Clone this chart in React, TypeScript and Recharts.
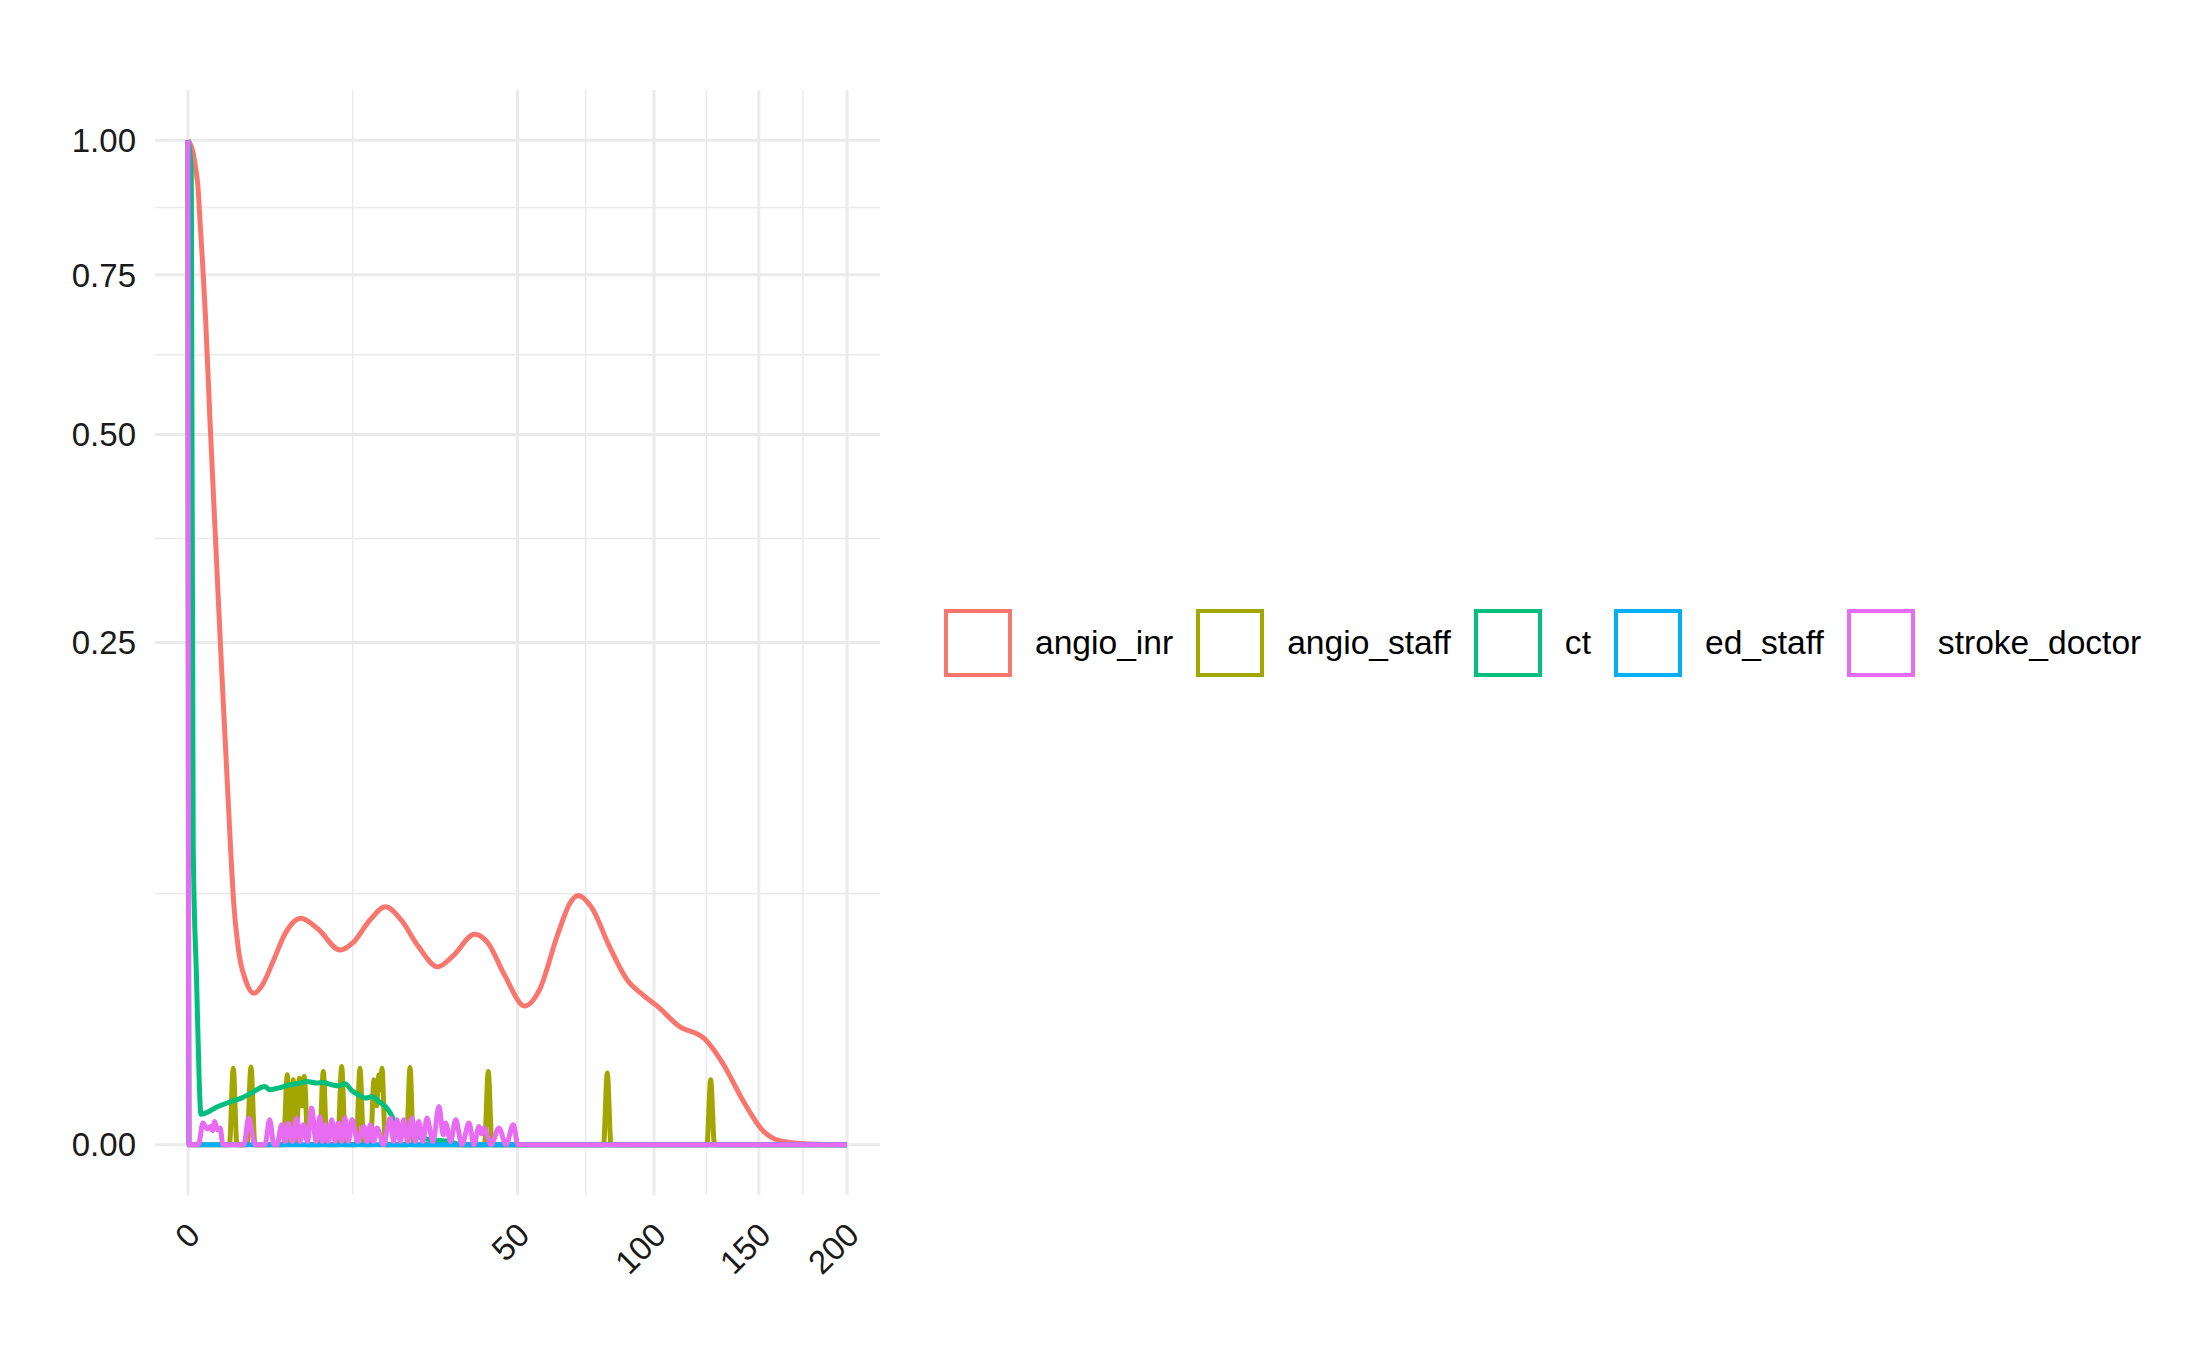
import { LineChart, Line, XAxis, YAxis, CartesianGrid, Legend } from 'recharts'

// raw values (minutes, probability); both axes are sqrt-scaled like the ggplot original
const seriesNames = ['angio_inr', 'angio_staff', 'ct', 'ed_staff', 'stroke_doctor']
const seriesColors = ['#F8766D', '#A3A500', '#00BF7D', '#00B0F6', '#E76BF3']

const xTickLabels = [0, 50, 100, 150, 200]
const yTickLabels = [0, 0.25, 0.5, 0.75, 1]

const angioInr: [number, number][] = [
  [0, 1], [0.01294, 0.9737], [0.02947, 0.9412], [0.04605, 0.9092], [0.0663, 0.8471],
  [0.1078, 0.7499], [0.1443, 0.6739], [0.2229, 0.5204], [0.483, 0.25], [0.8396, 0.0862],
  [0.9534, 0.05943], [1.1744, 0.03765], [1.5226, 0.02695], [2.006, 0.02272], [2.51, 0.025],
  [3.302, 0.0329], [4.397, 0.0446], [5.871, 0.0508], [7.817, 0.046], [10.64, 0.0376],
  [12.54, 0.0405], [15.32, 0.0503], [17.98, 0.0561], [20.85, 0.0503], [24.4, 0.0391],
  [28.72, 0.0314], [32.32, 0.0353], [37.84, 0.0439], [41.35, 0.0405], [46.29, 0.0282],
  [52.17, 0.0191], [56.99, 0.024], [62.76, 0.0432], [67.26, 0.058], [70.04, 0.0616],
  [75.12, 0.0556], [81.72, 0.0391], [88.6, 0.0272], [95.76, 0.022], [101.3, 0.0191],
  [110.9, 0.014], [123.0, 0.01107], [131.4, 0.00673], [142.3, 0.00179], [151.3, 0.000252],
  [160.7, 0.0000185], [172.7, 0.0000018], [200, 0],
]

const angioStaff: [number, number][] = [
  [0, 1], [0.0005, 0],
  [0.7931, 0], [0.945, 0.00582], [1.1057, 0],
  [1.603, 0], [1.828, 0.00598], [2.067, 0],
  [4.2, 0], [4.541, 0.00485], [4.819, 0], [5.106, 0.00418], [5.401, 0], [5.705, 0.0044],
  [5.964, 0.0015], [6.229, 0.00462], [6.631, 0],
  [7.963, 0], [8.43, 0.00532], [8.898, 0],
  [10.32, 0], [10.88, 0.00607], [11.42, 0],
  [13.03, 0], [13.62, 0.00582], [14.23, 0],
  [15.34, 0], [15.93, 0.00418], [16.38, 0.0015], [16.8, 0.00485], [17.08, 0.003], [17.33, 0.00582], [17.96, 0],
  [21.98, 0], [22.7, 0.00592], [23.42, 0],
  [40.48, 0], [41.53, 0.00532], [42.56, 0],
  [79.5, 0], [80.96, 0.00509], [82.4, 0],
  [124.0, 0], [125.8, 0.00418], [127.65, 0],
  [200, 0],
]

const ct: [number, number][] = [
  [0, 1], [0.00502, 0.941], [0.00737, 0.5204], [0.01017, 0.2426], [0.01294, 0.0862],
  [0.03485, 0.02598], [0.0588, 0.003806], [0.0778, 0.000921],
  [0.4145, 0.001452], [0.8634, 0.001856], [1.3083, 0.002159], [1.8452, 0.002646],
  [2.709, 0.003365], [3.0965, 0.002995], [3.73, 0.003183], [4.791, 0.003564],
  [5.776, 0.003769], [6.488, 0.003968], [7.628, 0.003769], [8.43, 0.003843],
  [9.509, 0.003564], [10.4, 0.003446], [11.35, 0.003684], [12.385, 0.002887],
  [13.418, 0.002475], [14.476, 0.002159], [15.59, 0.00231], [16.747, 0.001856],
  [17.926, 0.001452], [18.846, 0.000995], [19.485, 0.000619], [20.697, 0.000286],
  [22.695, 0.00012], [25.866, 0.0000356], [31.61, 0.0000089], [34.57, 0], [200, 0],
]

const edStaff: [number, number][] = [
  [0, 1], [0.0005, 0], [200, 0],
]

const strokeDoctor: [number, number][] = [
  [0, 1], [0.0005, 0], [0.05, 0],
  [0.1036, 0.000466], [0.17, 0.00025], [0.2373, 0.000332], [0.28, 0.0002], [0.3283, 0.000537],
  [0.4, 0.00022], [0.4804, 0.000276], [0.56, 0],
  [1.444, 0], [1.697, 0.000706], [2.067, 0],
  [2.73, 0], [3.074, 0.000619], [3.406, 0],
  [3.648, 0], [4.043, 0.000396], [4.333, 0.00001], [4.632, 0.000466], [5.029, 0.00001],
  [5.441, 0.000706], [5.777, 0.00001], [6.122, 0.000396], [6.576, 0.00001], [7.047, 0.001334],
  [7.545, 0.00001], [8.024, 0.000793], [8.331, 0.00001], [8.643, 0.000396], [9.065, 0.00001],
  [9.51, 0.000619], [9.951, 0.00001], [10.4, 0.000466], [10.88, 0.00001], [11.35, 0.000706],
  [11.86, 0.00001], [12.39, 0.000619], [13.28, 0.00001], [14.22, 0.000332], [14.75, 0.00001],
  [15.3, 0.000396], [15.88, 0.00001], [16.45, 0.000276], [17.62, 0], [18.85, 0.000706],
  [19.47, 0.00001], [20.11, 0.000619], [20.76, 0.00001], [21.43, 0.000619], [22.25, 0.00001],
  [23.11, 0.000706], [23.79, 0.00001], [24.51, 0.000537], [25.39, 0.00001], [26.3, 0.000706],
  [27.64, 0.00001], [29.01, 0.00145], [30.01, 0.0001], [30.58, 0.000466], [31.73, 0.00001],
  [33.0, 0.000619], [34.57, 0], [36.36, 0.000466], [37.67, 0], [39.0, 0.000332],
  [39.67, 0.00012], [40.35, 0.000276], [42.28, 0], [44.54, 0.000276], [46.57, 0],
  [48.73, 0.000396], [50.15, 0], [200, 0],
]

const seriesData = [angioInr, angioStaff, ct, edStaff, strokeDoctor]

// sqrt transform, as scale_x_sqrt / scale_y_sqrt do
const toSqrt = (pts: [number, number][]) =>
  pts.map(([x, y]) => ({ sx: Math.sqrt(x), sy: Math.sqrt(y) }))

const xTicks = xTickLabels.map(Math.sqrt)
const yTicks = yTickLabels.map(Math.sqrt)
const midpoints = (t: number[]) => t.slice(1).map((v, i) => (v + t[i]) / 2)
const xMinor = midpoints(xTicks)
const yMinor = midpoints(yTicks)

const xMax = xTicks[xTicks.length - 1]
const xDomain = [-0.05 * xMax, xMax * 1.05]
const yDomain = [-0.05, 1.05]

const FONT = '"Liberation Sans", Arial, Helvetica, sans-serif'
const GRID = '#EBEBEB'
const AXIS_TEXT = '#1A1A1A'

function XTick({ x, y, payload }: any) {
  const label = Math.round(payload.value * payload.value)
  const ax = x + 14
  const ay = y + 42
  return (
    <text
      x={ax}
      y={ay}
      transform={`rotate(-45 ${ax} ${ay})`}
      textAnchor="end"
      fill={AXIS_TEXT}
      fontSize={33}
      fontFamily={FONT}
    >
      {label}
    </text>
  )
}

function LegendContent() {
  return (
    <div style={{ display: 'flex', alignItems: 'center', height: 70, fontFamily: FONT, fontSize: 33.6, color: '#000' }}>
      {seriesNames.map((name, i) => (
        <div key={name} style={{ display: 'flex', alignItems: 'center', marginRight: 23 }}>
          <div
            style={{
              width: 68,
              height: 68,
              border: `4.5px solid ${seriesColors[i]}`,
              boxSizing: 'border-box',
            }}
          />
          <span style={{ marginLeft: 23, lineHeight: 1 }}>{name}</span>
        </div>
      ))}
    </div>
  )
}

export default function App() {
  return (
    <div style={{ position: 'absolute', left: 0, top: 0, width: 2187, height: 1350, background: '#fff' }}>
      <LineChart width={2187} height={1350} margin={{ top: 90, right: 1307, bottom: 95, left: 95 }}>
        <CartesianGrid
          stroke={GRID}
          strokeWidth={1.5}
          horizontalValues={yMinor}
          verticalValues={xMinor}
        />
        <CartesianGrid stroke={GRID} strokeWidth={3} syncWithTicks />
        <XAxis
          dataKey="sx"
          type="number"
          domain={xDomain}
          allowDataOverflow
          ticks={xTicks}
          interval={0}
          height={60}
          tick={<XTick />}
          tickLine={false}
          axisLine={false}
          tickSize={0}
          tickMargin={0}
        />
        <YAxis
          type="number"
          domain={yDomain}
          allowDataOverflow
          ticks={yTicks}
          interval={0}
          width={60}
          tickFormatter={(v: number) => (v * v).toFixed(2)}
          tick={{ fill: AXIS_TEXT, fontSize: 33, fontFamily: FONT }}
          tickLine={false}
          axisLine={false}
          tickSize={0}
          tickMargin={19}
        />
        <Legend
          layout="horizontal"
          align="center"
          verticalAlign="middle"
          content={<LegendContent />}
          wrapperStyle={{ position: 'absolute', left: 944, top: 608, width: 1240, height: 70 }}
        />
        {seriesNames.map((name, i) => (
          <Line
            key={name}
            name={name}
            data={toSqrt(seriesData[i])}
            dataKey="sy"
            type="monotone"
            stroke={seriesColors[i]}
            strokeWidth={5}
            dot={false}
            activeDot={false}
            isAnimationActive={false}
          />
        ))}
      </LineChart>
    </div>
  )
}
